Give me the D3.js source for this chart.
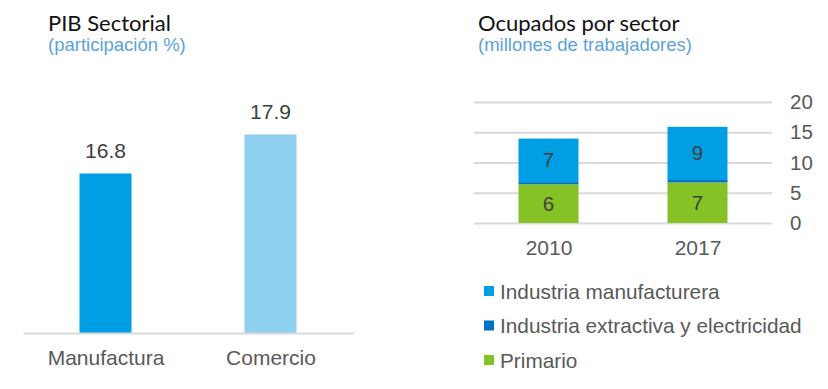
<!DOCTYPE html>
<html>
<head>
<meta charset="utf-8">
<script src="https://cdn.jsdelivr.net/npm/d3@7"></script>
<style>
  body { margin: 0; background: #fff; }
  svg text { font-family: "Liberation Sans", Arial, sans-serif; }
</style>
</head>
<body>
<div id="chart"></div>
<script>
// DATA - left chart
const pibCategories = ["Manufactura", "Comercio"];
const pibValues = [16.8, 17.9];
const pibColors = ["#009fe3", "#8dd0f0"];

// DATA - right chart
const years = ["2010", "2017"];
const seriesNames = ["Primario", "Industria extractiva y electricidad", "Industria manufacturera"];
const primario = [6.4, 6.7];
const extractiva = [0.35, 0.4];
const manufacturera = [7.2, 8.8];
const yTicks = [0, 5, 10, 15, 20];
const legendOrder = ["Industria manufacturera", "Industria extractiva y electricidad", "Primario"];

const colors = {
  "Industria manufacturera": "#009fe3",
  "Industria extractiva y electricidad": "#0070c0",
  "Primario": "#84c225"
};

const W = 828, H = 389;
let svg = d3.select("#chart").append("svg")
  .attr("width", W).attr("height", H);

// TITLES
function title(x, main, sub) {
  svg.append("text").attr("x", x).attr("y", 31)
    .style("font-family", "Lato, 'Open Sans', sans-serif")
    .style("font-size", "22px").attr("fill", "#111")
    .text(main);
  svg.append("text").attr("x", x).attr("y", 51)
    .style("font-size", "18.5px").attr("fill", "#5ba3d9")
    .text(sub);
}
title(48, "PIB Sectorial", "(participación %)");
title(478, "Ocupados por sector", "(millones de trabajadores)");

// LEFT CHART
const baseL = 333, barL = 52;
let xL = d3.scalePoint().domain(pibCategories).range([23, 353]).padding(0.5);
// axis doesn't start at zero in the original
let yL = d3.scaleLinear().domain([12.3, 18.5]).range([baseL, baseL - 6.2 * 35.45]);

let gL = svg.append("g");
gL.selectAll("rect").data(pibValues).enter().append("rect")
  .attr("x", (d, i) => xL(pibCategories[i]) - barL / 2)
  .attr("width", barL)
  .attr("y", d => yL(d))
  .attr("height", d => baseL - yL(d))
  .attr("fill", (d, i) => pibColors[i]);

gL.selectAll(".val").data(pibValues).enter().append("text")
  .attr("x", (d, i) => xL(pibCategories[i]))
  .attr("y", d => yL(d) - 15)
  .attr("text-anchor", "middle")
  .style("font-size", "21px").attr("fill", "#404040")
  .text(d => d3.format(".1f")(d));

const xAxisL = d3.axisBottom(xL).tickSize(0).tickPadding(17);
gL.append("g").attr("transform", "translate(0," + baseL + ")")
  .call(xAxisL)
  .call(g => g.select(".domain").attr("stroke", "#d9d9d9").attr("stroke-width", 2))
  .selectAll("text")
    .style("font-size", "21px").attr("fill", "#595959");

// RIGHT CHART
const x0 = 474, x1 = 772, barR = 60;
let xR = d3.scalePoint().domain(years).range([x0, x1]).padding(0.5);
let yR = d3.scaleLinear().domain([0, 20]).range([223, 102]);

let gR = svg.append("g");
const yAxisR = d3.axisRight(yR).tickValues(yTicks).tickSize(x1 - x0).tickPadding(18);
gR.append("g").attr("transform", "translate(" + x0 + ",0)")
  .call(yAxisR)
  .call(g => g.select(".domain").remove())
  .call(g => g.selectAll("line").attr("stroke", "#d9d9d9").attr("stroke-width", 2))
  .selectAll("text")
    .style("font-size", "20.5px").attr("fill", "#595959");

const table = years.map((y, i) => ({
  year: y,
  "Primario": primario[i],
  "Industria extractiva y electricidad": extractiva[i],
  "Industria manufacturera": manufacturera[i]
}));
const stack = d3.stack().keys(seriesNames)(table);

let layers = gR.selectAll(".layer").data(stack).enter().append("g")
  .attr("fill", d => colors[d.key]);
layers.selectAll("rect").data(d => d).enter().append("rect")
  .attr("x", d => xR(d.data.year) - barR / 2)
  .attr("width", barR)
  .attr("y", d => yR(d[1]))
  .attr("height", d => yR(d[0]) - yR(d[1]));

// segment labels (not for the thin extractive layer)
stack.filter(s => s.key !== "Industria extractiva y electricidad").forEach(s => {
  gR.selectAll(null).data(s).enter().append("text")
    .attr("x", d => xR(d.data.year))
    .attr("y", d => (yR(d[0]) + yR(d[1])) / 2 + 7)
    .attr("text-anchor", "middle")
    .style("font-size", "20.5px").attr("fill", "#404040")
    .text(d => d3.format(".0f")(d[1] - d[0]));
});

const xAxisR = d3.axisBottom(xR).tickSize(0).tickPadding(17);
gR.append("g").attr("transform", "translate(0,223)")
  .call(xAxisR)
  .call(g => g.select(".domain").remove())
  .selectAll("text")
    .style("font-size", "21px").attr("fill", "#595959");

// LEGEND
let legend = svg.append("g").attr("transform", "translate(484,0)");
legendOrder.forEach((k, i) => {
  let cy = 291 + i * 34.5;
  legend.append("rect").attr("x", 0).attr("y", cy - 5).attr("width", 10).attr("height", 10)
    .attr("fill", colors[k]);
  legend.append("text").attr("x", 16).attr("y", cy + 7.5)
    .style("font-size", "20.8px").attr("fill", "#595959")
    .text(k);
});
</script>
</body>
</html>
